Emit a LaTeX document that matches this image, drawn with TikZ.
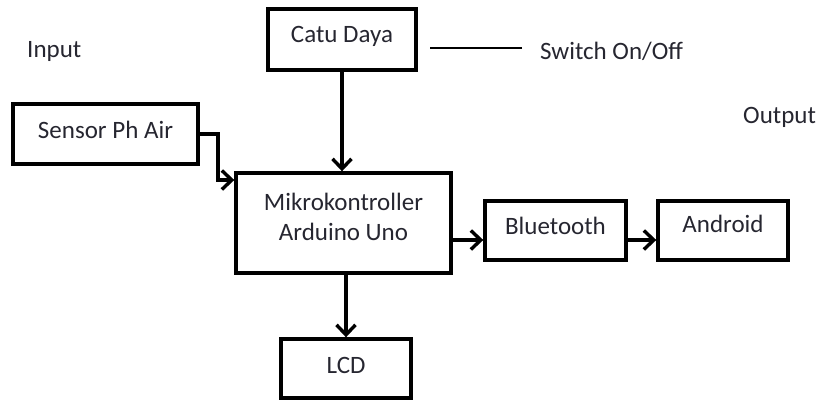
\documentclass[tikz,border=0pt]{standalone}
\usepackage{fontspec}
\setmainfont{Carlito}
\usetikzlibrary{arrows.meta}
\definecolor{txt}{RGB}{38,38,48}
\tikzset{
  blk/.style={draw=black, line width=3.4pt, inner sep=0pt, text=txt,
    font=\fontsize{25}{30}\selectfont, align=center, text height=17pt},
  lbl/.style={inner sep=0pt, text=txt, font=\fontsize{25}{30}\selectfont},
  conn/.style={line width=3.4pt, -{Straight Barb[length=10pt,width=19pt]}}
}
\begin{document}
\begin{tikzpicture}[x=1pt,y=-1pt]
\useasboundingbox (0,0) rectangle (822,400);
\node[blk, minimum width=148pt, minimum height=61pt, text depth=11pt] (catu) at (342,39.5) {Catu Daya};
\node[blk, minimum width=185pt, minimum height=60pt, text depth=9pt] (sensor) at (105.5,134) {Sensor Ph Air};
\node[blk, minimum width=215pt, minimum height=100pt, text height=47pt, text depth=13pt] (mikro) at (343.5,223) {Mikrokontroller\\Arduino Uno};
\node[blk, minimum width=141pt, minimum height=59pt, text depth=9pt] (bt) at (555.5,230.5) {Bluetooth};
\node[blk, minimum width=130pt, minimum height=59pt, text depth=13pt] (android) at (723,230.5) {Android};
\node[blk, minimum width=130pt, minimum height=59pt, text depth=8pt] (lcd) at (346,368.5) {LCD};
\node[lbl, anchor=west] (input) at (27,51) {Input};
\node[lbl, anchor=west] (output) at (743,117) {Output};
\node[lbl, anchor=west] (sw) at (540,51) {Switch On/Off};
\draw[line width=1.2pt] ([xshift=-18pt,yshift=3pt]sw.west) -- ++(-92,0);
\draw[conn] (catu.south) -- (catu.south |- mikro.north);
\coordinate (bend) at (218,180);
\draw[conn] (sensor.east) -| (bend) -- (bend -| mikro.west);
\coordinate (a) at ([yshift=-9.5pt]bt.west);
\draw[conn] (a -| mikro.east) -- (a);
\coordinate (b) at ([yshift=-9.5pt]android.west);
\draw[conn] (b -| bt.east) -- (b);
\draw[conn] (lcd.north |- mikro.south) -- (lcd.north);
\end{tikzpicture}
\end{document}
